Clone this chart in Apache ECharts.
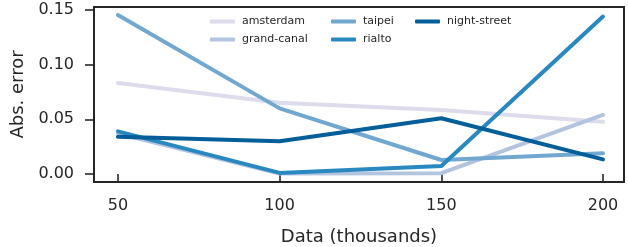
<!DOCTYPE html>
<html><head><meta charset="utf-8">
<script src="https://cdn.jsdelivr.net/npm/echarts@6/dist/echarts.min.js"></script>
<style>html,body{margin:0;padding:0;background:#fff}#c{width:628px;height:247px}</style>
</head><body><div id="c"></div>
<script>
const xValues = [50, 100, 150, 200];
const amsterdam = [0.0832, 0.0652, 0.0585, 0.0478];
const grandCanal = [0.0370, 0.0005, 0.0008, 0.0540];
const taipei = [0.1454, 0.0600, 0.0128, 0.0190];
const rialto = [0.0390, 0.0010, 0.0073, 0.1440];
const nightStreet = [0.0340, 0.0300, 0.0510, 0.0134];
const xTicks = [50, 100, 150, 200];
const yTicks = [0, 0.05, 0.10, 0.15];

const names = ['amsterdam', 'grand-canal', 'taipei', 'rialto', 'night-street'];
const values = [amsterdam, grandCanal, taipei, rialto, nightStreet];
const colors = ['#dcdcec', '#b3c4df', '#72a8d0', '#2a88c0', '#035e99'];
const font = 'DejaVu Sans';

const chart = echarts.init(document.getElementById('c'));
const legendCommon = {
  orient: 'vertical', top: 11, itemWidth: 25, itemHeight: 4, itemGap: 7,
  icon: 'roundRect',
  textStyle: {fontFamily: font, fontSize: 11, color: '#262626', padding: [0,0,0,2]},
  selectedMode: false
};
chart.setOption({
  animation: false,
  color: colors,
  grid: {left: 94, right: 4, top: 7, bottom: 65, outerBoundsMode: 'none', containLabel: false,
         show: true, borderColor: '#262626', borderWidth: 2, backgroundColor: 'transparent'},
  legend: [
    Object.assign({left: 205, data: ['amsterdam', 'grand-canal']}, legendCommon),
    Object.assign({left: 326, data: ['taipei', 'rialto']}, legendCommon),
    Object.assign({left: 410, data: ['night-street']}, legendCommon)
  ],
  xAxis: {
    type: 'value', min: 42.6, max: 206.5,
    name: 'Data (thousands)', nameLocation: 'middle', nameGap: 46,
    nameTextStyle: {fontFamily: font, fontSize: 18, color: '#262626'},
    axisLine: {show: false},
    splitLine: {show: false},
    axisTick: {show: true, length: 9, lineStyle: {color: '#262626', width: 1.6}, customValues: xTicks},
    axisLabel: {fontFamily: font, fontSize: 16, color: '#262626', margin: 16, customValues: xTicks, formatter: v => String(v)}
  },
  yAxis: {
    type: 'value', min: -0.0073, max: 0.1527,
    name: 'Abs. error', nameLocation: 'middle', nameGap: 66,
    nameTextStyle: {fontFamily: font, fontSize: 18, color: '#262626'},
    axisLine: {show: false},
    splitLine: {show: false},
    axisTick: {show: true, length: 9, lineStyle: {color: '#262626', width: 1.6}, customValues: yTicks},
    axisLabel: {fontFamily: font, fontSize: 16, color: '#262626', margin: 20, customValues: yTicks, formatter: v => v.toFixed(2)}
  },
  series: names.map((n, i) => ({
    name: n, type: 'line', showSymbol: false, symbol: 'none',
    data: xValues.map((x, j) => [x, values[i][j]]),
    lineStyle: {width: 4, color: colors[i], cap: 'round', join: 'round'},
    itemStyle: {color: colors[i]},
    z: 2 + i
  }))
});
</script></body></html>
